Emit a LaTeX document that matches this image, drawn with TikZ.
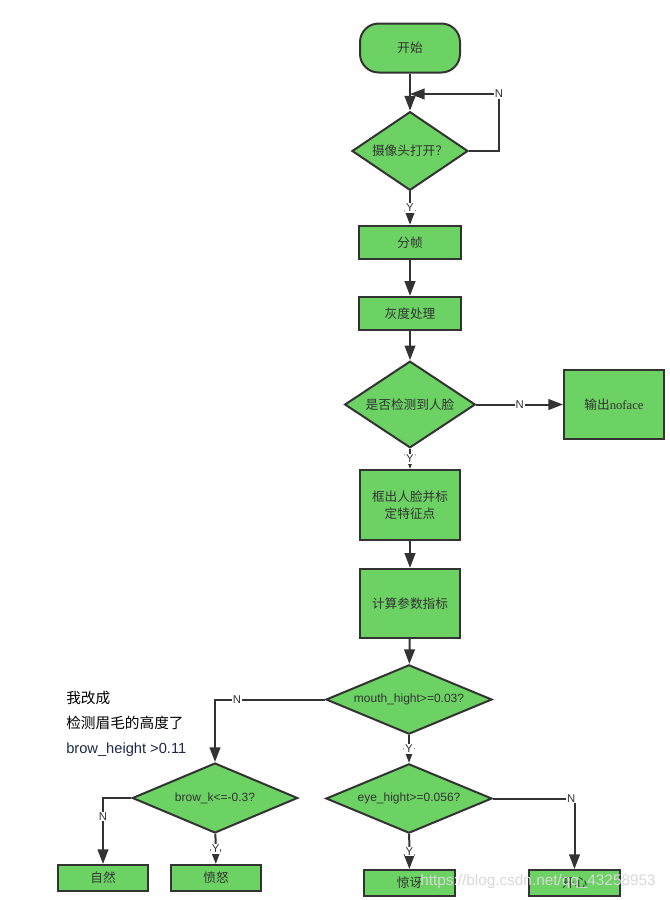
\documentclass[tikz,border=0pt]{standalone}
\usepackage{fontspec}
\setmainfont{Liberation Sans}
\newfontfamily\cjk{Noto Sans CJK SC}
\newfontfamily\simlatin{Liberation Serif}
\usetikzlibrary{shapes.geometric,arrows.meta}

\definecolor{boxgreen}{HTML}{6CD264}
\definecolor{linegray}{HTML}{333333}
\definecolor{notenavy}{HTML}{1B2A47}

\tikzset{
  block/.style={draw=linegray, fill=boxgreen, line width=1.5pt, text=linegray,
    font=\cjk\fontsize{9.5}{12.5}\selectfont, align=center, inner sep=2pt},
  decide/.style={block, diamond, inner sep=0pt},
  flow/.style={draw=linegray, line width=1.5pt, -{Triangle[length=11pt,width=8pt]}},
  yn/.style={fill=white, text=linegray, font=\fontsize{8.5}{10}\selectfont, inner sep=0.6pt},
  note/.style={anchor=west, inner sep=0pt, font=\fontsize{11}{13}\selectfont},
}

\begin{document}
\begin{tikzpicture}[x=0.75pt,y=-0.75pt]
    \fill[white] (0,0) rectangle (670,900);
    \useasboundingbox (0,0) rectangle (670,900);

    \node[block, minimum width=75pt, minimum height=36.75pt, rounded corners=14pt] (start) at (410,48) {开始};
    \node[decide, aspect=1.47, minimum width=87pt, minimum height=59pt] (cam) at (410,151) {摄像头打开？};
    \node[block, minimum width=77pt, minimum height=25pt] (split) at (410,242.5) {分帧};
    \node[block, minimum width=77pt, minimum height=25pt] (gray) at (410,313.5) {灰度处理};
    \node[decide, aspect=1.5, minimum width=98pt, minimum height=65pt] (face) at (410,404.5) {是否检测到人脸};
    \node[block, minimum width=75pt, minimum height=52pt] (noface) at (614,404.5) {输出{\simlatin noface}};
    \node[block, minimum width=75pt, minimum height=52.5pt] (mark) at (410,505) {框出人脸并标\\定特征点};
    \node[block, minimum width=75pt, minimum height=52pt] (calc) at (410,603.5) {计算参数指标};

    \node[decide, aspect=2.4, minimum width=124.5pt, minimum height=52pt, font=\fontsize{9}{11}\selectfont] (mouth) at (409,699.5) {mouth\_hight>=0.03?};
    \node[decide, aspect=2.4, minimum width=124pt, minimum height=52.5pt, font=\fontsize{9}{11}\selectfont] (brow) at (215,798) {brow\_k<=-0.3?};
    \node[decide, aspect=2.4, minimum width=124.5pt, minimum height=52pt, font=\fontsize{9}{11}\selectfont] (eye) at (409,798.5) {eye\_hight>=0.056?};

    \node[block, minimum width=68pt, minimum height=19.5pt] (nat) at (103,878) {自然};
    \node[block, minimum width=68pt, minimum height=19.5pt] (anger) at (216,878) {愤怒};
    \node[block, minimum width=68pt, minimum height=19.5pt] (surprise) at (409.5,883) {惊讶};
    \node[block, minimum width=68pt, minimum height=19.5pt] (happy) at (574.5,883) {开心};

    \coordinate (join) at (410,94);

    \draw[flow] (start) -- (cam);
    \draw[flow] (cam.east) -- ++(30,0) |- node[yn] {N} (join);
    \draw[flow] (cam) -- node[yn] {Y} (split);
    \draw[flow] (split) -- (gray);
    \draw[flow] (gray) -- (face);
    \draw[flow] (face) -- node[yn] {N} (noface);
    \draw[flow] (face) -- node[yn] {Y} (mark);
    \draw[flow] (mark) -- (calc);
    \draw[flow] (calc) -- (mouth);
    \draw[flow] (mouth) -- node[yn] {Y} (eye);
    \draw[flow] (mouth.west) -| node[yn, pos=0.4] {N} (brow);
    \draw[flow] (brow.west) -| node[yn, pos=0.64] {N} (nat);
    \draw[flow] (brow) -- node[yn] {Y} (anger);
    \draw[flow] (eye) -- node[yn] {Y} (surprise);
    \draw[flow] (eye.east) -| node[yn, pos=0.48] {N} (happy);

    \node[note, font=\cjk\fontsize{11}{13}\selectfont] (note1) at (66,698) {我改成};
    \node[note, font=\cjk\fontsize{11}{13}\selectfont] (note2) at (66,723) {检测眉毛的高度了};
    \node[note, text=notenavy] (note3) at (66,750) {brow\_height >0.11};

    \node[text=gray!30, font=\fontsize{11.5}{13}\selectfont] (mark2) at (538,882) {https://blog.csdn.net/qq\_43258953};
\end{tikzpicture}
\end{document}
